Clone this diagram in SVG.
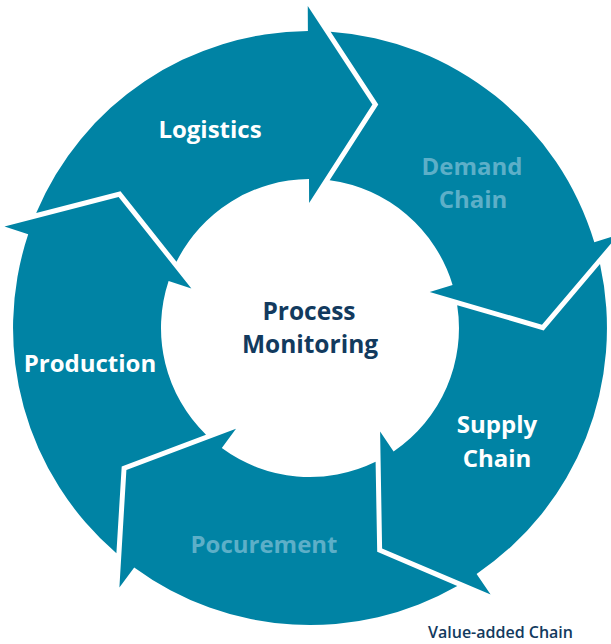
<svg xmlns="http://www.w3.org/2000/svg" width="611" height="644" viewBox="0 0 611 644">
<style>
.seg{fill:#0083A4;stroke:none}
.lbl{font-family:"Open Sans","Liberation Sans",sans-serif;font-weight:700;font-size:24px;text-anchor:middle}
.w{fill:#FFFFFF}
.l{fill:#5DAFC8}
.c{fill:#123A5E;font-size:24.5px}
.cap{font-family:"Open Sans","Liberation Sans",sans-serif;font-weight:600;font-size:16px;fill:#123A5E}
</style>
<rect width="611" height="644" fill="#FFFFFF"/>
<g id="connectors"></g>
<g id="logistics">
<path class="seg" d="M36.2,213.0 A297,297 0 0 1 307.9,31.0 L307.75,6.0 L372.4,104.5 L309.1,203.0 L309.0,179.0 A149,149 0 0 0 176.5,261.8 L120.5,191.3 Z"/>
<text class="lbl w" x="210" y="138">Logistics</text>
</g>
<g id="demand-chain">
<path class="seg" d="M330.6,31.7 A297,297 0 0 1 594.3,242.2 L618.3,234.9 L542.0,324.8 L429.7,291.9 L452.6,284.9 A149,149 0 0 0 329.65,180.3 L378.3,104.5 Z"/>
<text class="lbl l" x="472" y="175">Demand</text>
<text class="lbl l" x="473" y="208">Chain</text>
</g>
<g id="supply-chain">
<path class="seg" d="M600.0,264.1 A297,297 0 0 1 476.6,573.9 L490.6,594.6 L382.1,548.5 L380.1,431.5 L393.6,451.4 A149,149 0 0 0 457.2,305.15 L543.7,330.4 Z"/>
<text class="lbl w" x="497" y="433">Supply</text>
<text class="lbl w" x="497" y="467">Chain</text>
</g>
<g id="pocurement">
<path class="seg" d="M457.3,585.9 A297,297 0 0 1 134.2,567.4 L119.4,587.5 L126.4,469.9 L236.0,428.7 L221.8,448.1 A149,149 0 0 0 375.6,461.8 L377.2,551.8 Z"/>
<text class="lbl l" x="264" y="553">Pocurement</text>
</g>
<g id="production">
<path class="seg" d="M116.4,553.2 A297,297 0 0 1 28.2,234.3 L4.5,226.4 L118.6,196.9 L191.4,288.5 L168.6,281.0 A149,149 0 0 0 206.0,434.7 L121.7,466.4 Z"/>
<text class="lbl w" x="90" y="372">Production</text>
</g>
<g id="process-monitoring">
<text class="lbl c" x="309" y="320">Process</text>
<text class="lbl c" x="310" y="353">Monitoring</text>
</g>
<g id="caption">
<text class="cap" x="428" y="638">Value-added Chain</text>
</g>
</svg>
